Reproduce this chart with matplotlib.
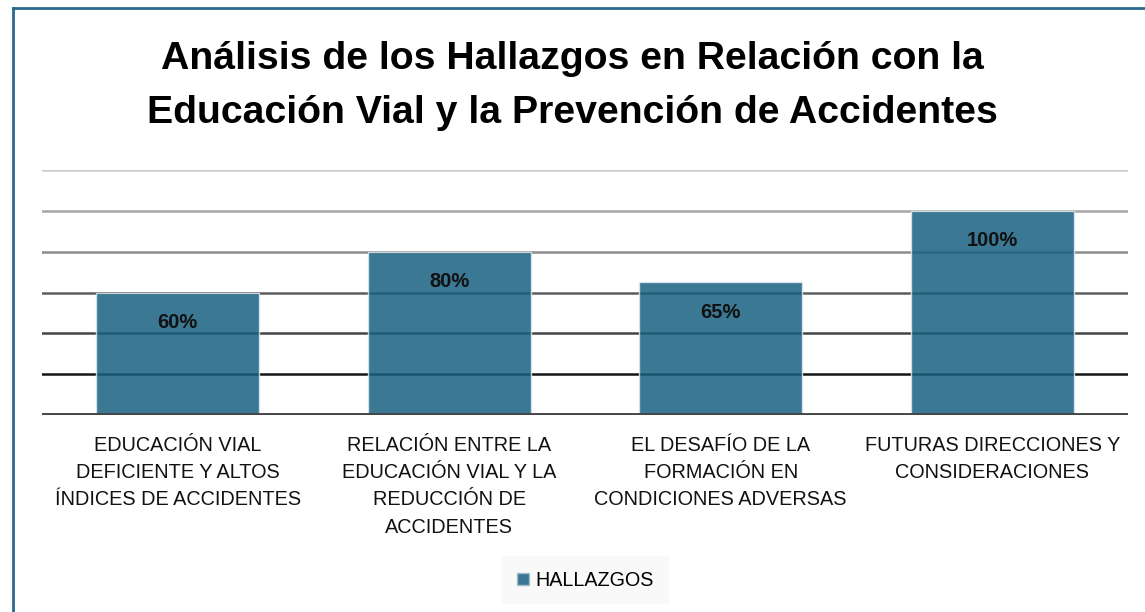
import matplotlib
matplotlib.use("Agg")
import matplotlib.pyplot as plt
from matplotlib.lines import Line2D

# datos
categorias = [
    "EDUCACIÓN VIAL\nDEFICIENTE Y ALTOS\nÍNDICES DE ACCIDENTES",
    "RELACIÓN ENTRE LA\nEDUCACIÓN VIAL Y LA\nREDUCCIÓN DE\nACCIDENTES",
    "EL DESAFÍO DE LA\nFORMACIÓN EN\nCONDICIONES ADVERSAS",
    "FUTURAS DIRECCIONES Y\nCONSIDERACIONES",
]
hallazgos = [60, 80, 65, 100]
etiquetas = ["60%", "80%", "65%", "100%"]
serie = "HALLAZGOS"
titulo = "Análisis de los Hallazgos en Relación con la\nEducación Vial y la Prevención de Accidentes"
niveles = [20, 40, 60, 80, 100, 120]
colores_grid = ["#151515", "#444444", "#5e5e5e", "#8c8c8c", "#a6a6a6", "#cccccc"]

plt.rcParams["font.family"] = ["Liberation Sans", "DejaVu Sans"]
COLOR = "#186180"
COLOR_LEY = "#3a7794"

fig = plt.figure(figsize=(11.45, 6.12), dpi=100)
ax = fig.add_axes([42 / 1145, 1 - 415 / 612, (1128 - 42) / 1145, (415 - 170) / 612])

x = list(range(len(categorias)))
for y, c in zip(niveles, colores_grid):
    ax.axhline(y, color=c, lw=1.8, zorder=1)
ax.axhline(0, color="#444444", lw=3.5, zorder=4)

barras = ax.bar(x, hallazgos, width=0.6, color=COLOR, alpha=0.85,
                edgecolor="#dfe8ee", linewidth=1.0, zorder=2)
for b, t in zip(barras, etiquetas):
    ax.annotate(t, (b.get_x() + b.get_width() / 2, b.get_height()),
                xytext=(0, -21.5), textcoords="offset points",
                ha="center", va="center", fontsize=14.5, fontweight="bold",
                color="#111111", zorder=5)

ax.set_xlim(-0.5, 3.5)
ax.set_ylim(0, 120)
ax.set_yticks([])
ax.set_xticks(x)
ax.set_xticklabels(categorias, fontsize=14.3, color="#111111", linespacing=1.55)
ax.tick_params(axis="x", length=0, pad=15)
for s in ax.spines.values():
    s.set_visible(False)

fig.text(0.5, 1 - 86 / 612, titulo, ha="center", va="center", fontsize=28.3,
         fontweight="bold", linespacing=1.63, color="black")

# leyenda
h = Line2D([], [], marker="s", ls="", color=COLOR_LEY, markersize=9,
           markeredgecolor="#9fbccb")
fig.legend([h], [serie], loc="center", bbox_to_anchor=(585 / 1145, 1 - 580 / 612),
           fontsize=14.2, frameon=True, facecolor="#f8f8f8", edgecolor="#f8f8f8",
           handlelength=0.7, handletextpad=0.3, borderpad=0.7, borderaxespad=0,
           fancybox=False)

# borde
fig.add_artist(Line2D([12.5 / 1145, 12.5 / 1145], [0, 1 - 7.5 / 612],
                      color="#2b6a8e", lw=2, transform=fig.transFigure))
fig.add_artist(Line2D([12.5 / 1145, 1], [1 - 7.5 / 612, 1 - 7.5 / 612],
                      color="#2b6a8e", lw=2, transform=fig.transFigure))

fig.savefig("out.png", dpi=100)
